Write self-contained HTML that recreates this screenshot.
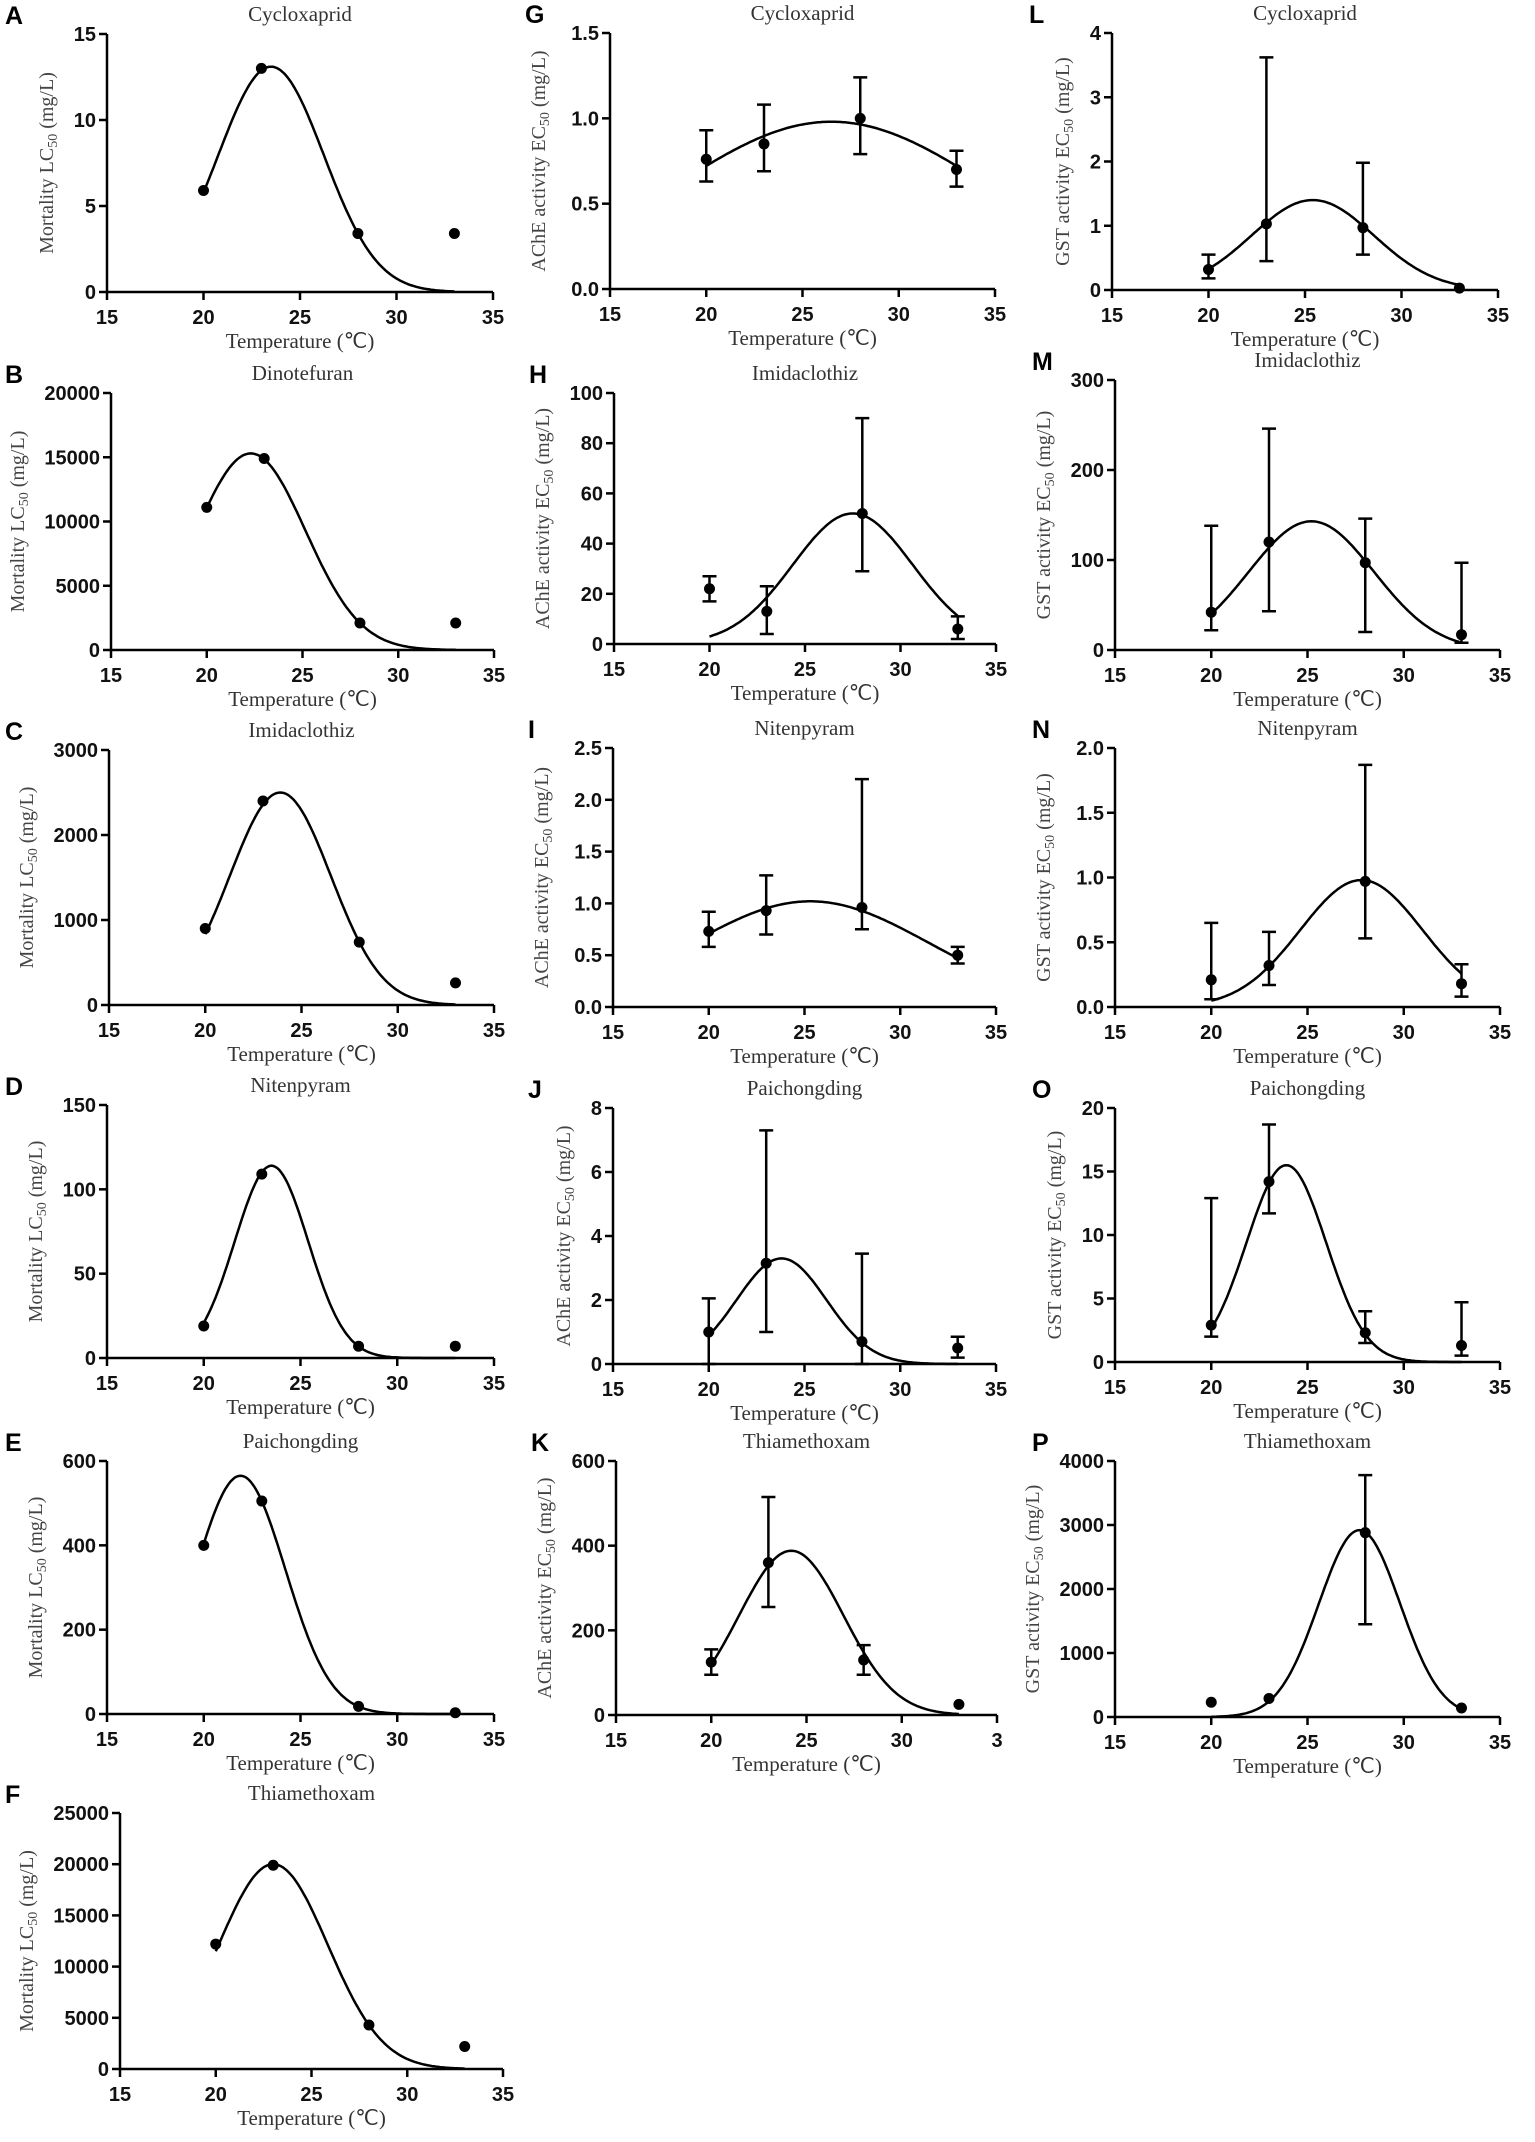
<!DOCTYPE html>
<html><head><meta charset="utf-8"><style>
html,body{margin:0;padding:0;background:#fff}
svg{display:block}
.tk{font-family:"Liberation Sans",Arial,sans-serif;font-weight:bold;font-size:20px;fill:#111}
.ttl{font-family:"Liberation Serif",serif;font-size:21px;fill:#333}
.lab{font-family:"Liberation Serif",serif;font-size:20px;fill:#444}
.let{font-family:"Liberation Sans",Arial,sans-serif;font-weight:bold;font-size:25px;fill:#000}
</style></head><body>
<svg id="fig" width="1535" height="2142" viewBox="0 0 1535 2142" xmlns="http://www.w3.org/2000/svg"></svg>
<script>
// ---- data (per panel) ----
const panelLetters=["A","B","C","D","E","F","G","H","I","J","K","L","M","N","O","P"];
const panelTitles=["Cycloxaprid","Dinotefuran","Imidaclothiz","Nitenpyram","Paichongding","Thiamethoxam","Cycloxaprid","Imidaclothiz","Nitenpyram","Paichongding","Thiamethoxam","Cycloxaprid","Imidaclothiz","Nitenpyram","Paichongding","Thiamethoxam"];
const temps=[20,23,28,33];
const values=[
[5.9,13,3.4,3.4],[11100,14900,2100,2100],[900,2400,740,260],[19,109,7,7],[400,505,18,3],[12200,19900,4300,2200],
[0.76,0.85,1.0,0.70],[22,13,52,6],[0.73,0.93,0.96,0.5],[1.0,3.15,0.7,0.5],[125,360,130,25],
[0.32,1.03,0.97,0.03],[42,120,97,17],[0.21,0.32,0.97,0.18],[2.9,14.2,2.3,1.3],[230,290,2880,140]];
const errLow=[
null,null,null,null,null,null,
[0.63,0.69,0.79,0.60],[17,4,29,2],[0.58,0.70,0.75,0.42],[0,1.0,0,0.2],[95,255,95,null],
[0.18,0.45,0.55,null],[22,43,20,8],[0.06,0.17,0.53,0.08],[2.0,11.7,1.5,0.5],[null,null,1450,null]];
const errHigh=[
null,null,null,null,null,null,
[0.93,1.08,1.24,0.81],[27,23,90,11],[0.92,1.27,2.2,0.58],[2.05,7.3,3.45,0.85],[155,515,165,null],
[0.55,3.62,1.98,null],[138,246,146,97],[0.65,0.58,1.87,0.33],[12.9,18.7,4.0,4.7],[null,null,3780,null]];
// Gaussian fit curves: peak height, peak temperature, width
const fitPeak=[13.1,15300,2500,114,565,20000,0.98,52,1.02,3.3,388,1.4,143,0.98,15.5,2920];
const fitCenter=[23.5,22.3,23.9,23.5,21.9,23,26.5,27.5,25.3,23.8,24.2,25.4,25.2,27.8,23.9,27.7];
const fitWidth=[2.74,2.86,2.63,1.9,2.32,2.85,8.3,3.14,6.2,2.35,2.74,3.17,3.26,3.18,2.07,2.11];
const yMax=[15,20000,3000,150,600,25000,1.5,100,2.5,8,600,4,300,2.0,20,4000];
const yStep=[5,5000,1000,50,200,5000,0.5,20,0.5,2,200,1,100,0.5,5,1000];
const yDecimals=[0,0,0,0,0,0,1,0,1,0,0,0,0,1,0,0];
const xTicks=[15,20,25,30,35];
const xTickLabels=["15","20","25","30","35"];
const xTickLabelsK=["15","20","25","30","3"];
const yTitles=["Mortality LC","AChE activity EC","GST activity EC"];
// ---- layout ----
const geom=[
[107,493,34,292],[111,494,393,650],[109,494,750,1005],[107,494,1105,1358],[107,494,1461,1714],[120,503,1813,2069],
[610,995,33,289],[614,996,393,644],[613,996,748,1007],[613,996,1108,1364],[616,997,1461,1715],
[1112,1498,33,290],[1115,1500,380,650],[1115,1500,748,1007],[1115,1500,1108,1362],[1115,1500,1461,1717]];
const NS="http://www.w3.org/2000/svg";
const svg=document.getElementById('fig');
function mk(tag,attrs,parent){const e=document.createElementNS(NS,tag);for(const k in attrs)e.setAttribute(k,attrs[k]);parent.appendChild(e);return e;}
for(let p=0;p<16;p++){
  const [x0,x1,y0,y1]=geom[p];
  const col=p<6?0:(p<11?1:2);
  const g=mk('g',{},svg);
  
  
  const sx=v=>x0+(v-15)/20*(x1-x0);
  const sy=v=>y1-v/yMax[p]*(y1-y0);
  const L=mk('text',{x:5,y:y0-10,'class':'let'},g);L.textContent=panelLetters[p];
  if(col===1)L.setAttribute('x',x0-85);
  if(col===2)L.setAttribute('x',x0-83);
  
  
  const T=mk('text',{x:(x0+x1)/2,y:y0-13,'text-anchor':'middle','class':'ttl'},g);T.textContent=panelTitles[p];
  
  
  const ax=mk('path',{d:`M${x0},${y0}V${y1}H${x1}`,fill:'none',stroke:'#000','stroke-width':2.5},g);
  
  
  let maxW=0;
  for(let v=0;v<=yMax[p]+1e-9;v+=yStep[p]){
    const y=sy(v);
    mk('line',{x1:x0-8,x2:x0,y1:y,y2:y,stroke:'#000','stroke-width':2.5},g);
    const s=v.toFixed(yDecimals[p]);maxW=Math.max(maxW,s.length);
    const t=mk('text',{x:x0-11,y:y+7,'text-anchor':'end','class':'tk'},g);t.textContent=s;
    
    
  }
  const xl=p===10?xTickLabelsK:xTickLabels;
  xTicks.forEach((v,i)=>{
    const x=sx(v);
    mk('line',{x1:x,x2:x,y1:y1,y2:y1+8,stroke:'#000','stroke-width':2.5},g);
    const t=mk('text',{x:x,y:y1+32,'text-anchor':'middle','class':'tk'},g);t.textContent=xl[i];
    
    
  });
  const xt=mk('text',{x:(x0+x1)/2,y:y1+56,'text-anchor':'middle','class':'ttl'},g);xt.textContent='Temperature (℃)';
  
  
  const lx=x0-(maxW*11+32), ly=(y0+y1)/2;
  const yt=mk('text',{x:lx,y:ly,'text-anchor':'middle','class':'lab',transform:`rotate(-90 ${lx} ${ly})`},g);
  yt.textContent=yTitles[col];
  const sub=mk('tspan',{'font-size':'14px',dy:'4'},yt);sub.textContent='50';
  const rest=mk('tspan',{dy:'-4'},yt);rest.textContent=' (mg/L)';
  
  
  let d='';
  for(let i=0;i<=130;i++){const t=20+i*0.1;const v=fitPeak[p]*Math.exp(-((t-fitCenter[p])**2)/(2*fitWidth[p]**2));d+=(i?'L':'M')+sx(t).toFixed(1)+','+sy(v).toFixed(1);}
  const c=mk('path',{d:d,fill:'none',stroke:'#000','stroke-width':2.5},g);
  
  
  temps.forEach((t,i)=>{
    const x=sx(t);
    if(errLow[p]&&errLow[p][i]!=null){
      const a=sy(errLow[p][i]),b=sy(errHigh[p][i]);
      const e=mk('path',{d:`M${x},${a}V${b}M${x-7},${a}H${x+7}M${x-7},${b}H${x+7}`,stroke:'#000','stroke-width':2.5,fill:'none'},g);
      
      
    }
    const pt=mk('circle',{cx:x,cy:sy(values[p][i]),r:5.5,fill:'#000'},g);
    
    
  });
}
</script>
</body></html>
